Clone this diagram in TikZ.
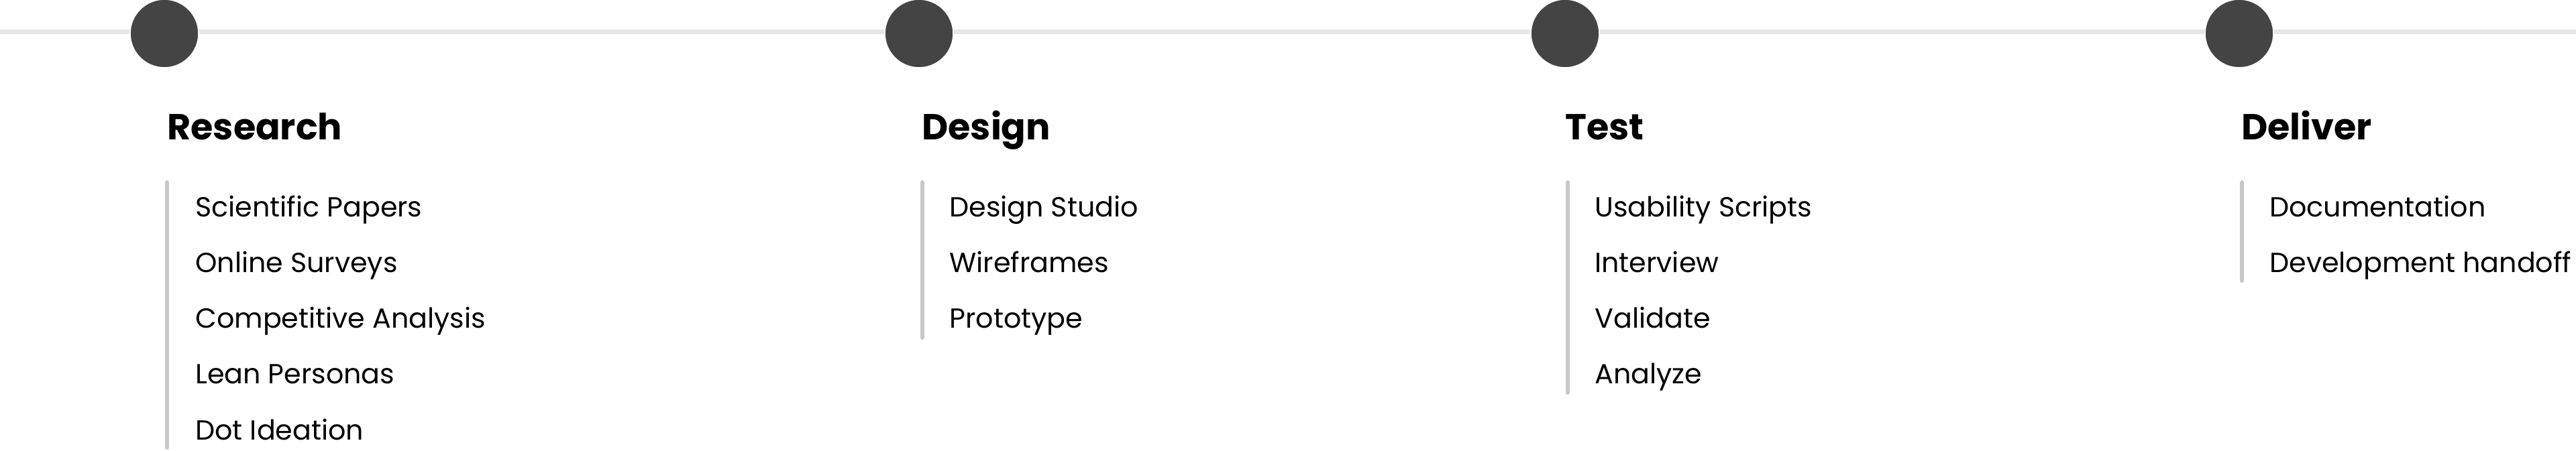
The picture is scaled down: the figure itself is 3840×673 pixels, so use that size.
\documentclass[tikz,border=0pt]{standalone}
\usepackage{fontspec}
\setmainfont{Poppins}
\definecolor{railgray}{HTML}{E6E6E6}
\definecolor{dotgray}{HTML}{444444}
\definecolor{bargray}{HTML}{C8C8C8}
\tikzset{
  rail/.style={draw=railgray, line width=3.5pt},
  dot/.style={circle, fill=dotgray, draw=white, line width=0.8pt, minimum size=51pt, inner sep=0pt},
  phase/.style={anchor=base west, inner sep=0pt, font=\fontsize{27pt}{30pt}\selectfont\bfseries, text=black},
  item/.style={anchor=base west, inner sep=0pt, font=\fontsize{20.6pt}{24pt}\selectfont, text=black},
  bar/.style={draw=bargray, line width=3pt, line cap=round}
}
\begin{document}
\begin{tikzpicture}[x=0.5pt, y=-0.5pt]
\useasboundingbox (0,0) rectangle (3840,673);
% timeline
\coordinate (L) at (0,48);
\coordinate (R) at (3840,48);
\draw[rail] (L) -- (R);
% dots
\node[dot] (c1) at (245,50) {};
\node[dot] (c2) at (1370,50) {};
\node[dot] (c3) at (2333,50) {};
\node[dot] (c4) at (3338,50) {};
% titles
\node[phase] (t1) at (249,209) {Research};
\node[phase] (t2) at (1374,209) {Design};
\node[phase] (t3) at (2333,209) {Test};
\node[phase] (t4) at (3341,209) {Deliver};
% bars
\coordinate (b1t) at (249,272); \coordinate (b1b) at (249,668);
\coordinate (b2t) at (1374.5,272); \coordinate (b2b) at (1374.5,504);
\coordinate (b3t) at (2337,272); \coordinate (b3b) at (2337,586);
\coordinate (b4t) at (3342,272); \coordinate (b4b) at (3342,419);
\draw[bar] (b1t) -- (b1b);
\draw[bar] (b2t) -- (b2b);
\draw[bar] (b3t) -- (b3b);
\draw[bar] (b4t) -- (b4b);
% items: Research
\node[item] (r1) at (291,324) {Scientific Papers};
\node[item] (r2) at (291,407) {Online Surveys};
\node[item] (r3) at (291,489) {Competitive Analysis};
\node[item] (r4) at (291,573) {Lean Personas};
\node[item] (r5) at (291,656) {Dot Ideation};
% Design
\node[item] (d1) at (1415,324) {Design Studio};
\node[item] (d2) at (1415,407) {Wireframes};
\node[item] (d3) at (1415,489) {Prototype};
% Test
\node[item] (s1) at (2377,324) {Usability Scripts};
\node[item] (s2) at (2377,407) {Interview};
\node[item] (s3) at (2377,489) {Validate};
\node[item] (s4) at (2377,573) {Analyze};
% Deliver
\node[item] (v1) at (3383,324) {Documentation};
\node[item] (v2) at (3383,407) {Development handoff};
\end{tikzpicture}
\end{document}
